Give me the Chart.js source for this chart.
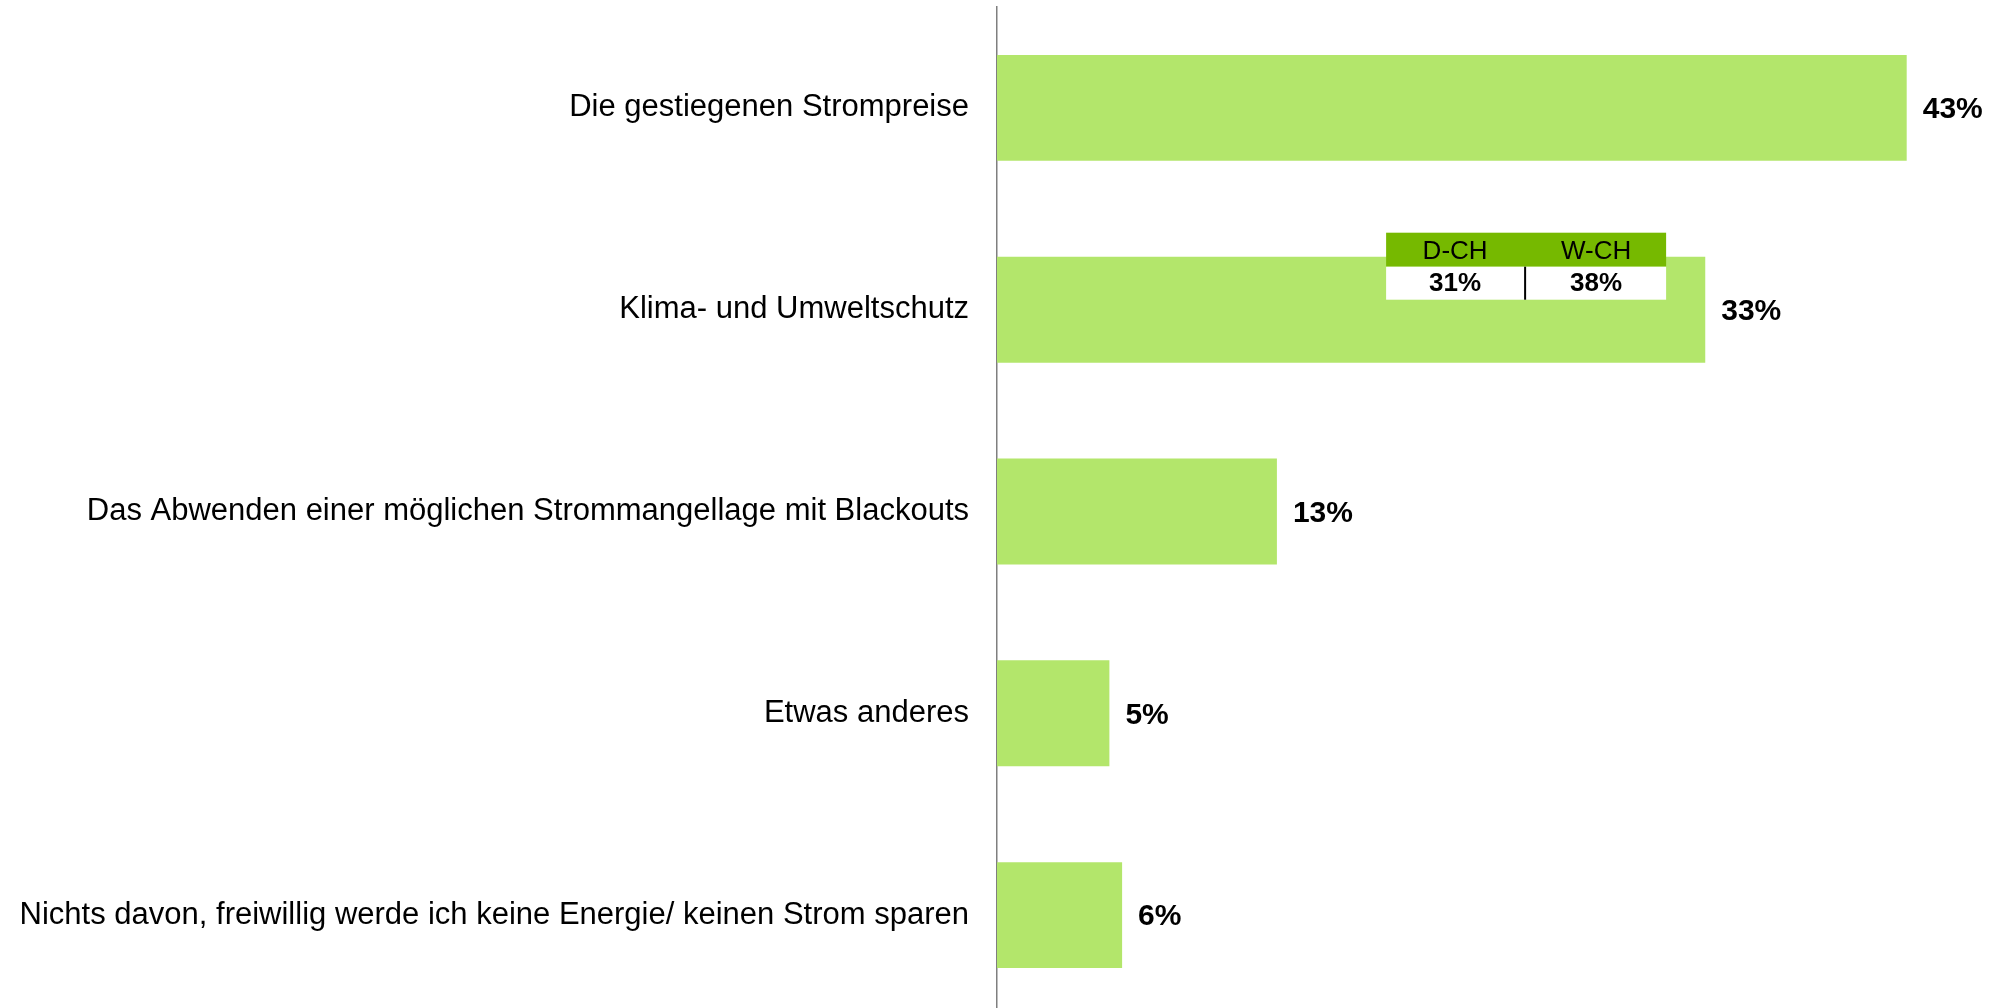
<!DOCTYPE html>
<html>
<head>
<meta charset="utf-8">
<script src="https://cdn.jsdelivr.net/npm/chart.js@4/dist/chart.umd.min.js"></script>
<style>
  html, body { margin: 0; padding: 0; background: #fff; overflow: hidden; }
  #wrap { width: 2000px; height: 1016px; position: relative; }
</style>
</head>
<body>
<div id="wrap"><canvas id="chart"></canvas></div>
<script>
// categories and values
const categories = [
  'Die gestiegenen Strompreise',
  'Klima- und Umweltschutz',
  'Das Abwenden einer möglichen Strommangellage mit Blackouts',
  'Etwas anderes',
  'Nichts davon, freiwillig werde ich keine Energie/ keinen Strom sparen'
];
const shares = [42.9, 33.4, 13.2, 5.3, 5.9];

// inset table on the second bar
const regionHeads = ['D-CH', 'W-CH'];
const regionShares = [31, 38];

const FONT = '"Liberation Sans", Arial, sans-serif';

const valueLabels = {
  id: 'valueLabels',
  afterDatasetsDraw(chart) {
    const ctx = chart.ctx;
    const meta = chart.getDatasetMeta(0);
    ctx.save();
    ctx.font = 'bold 30px ' + FONT;
    ctx.fillStyle = '#000';
    ctx.textAlign = 'left';
    ctx.textBaseline = 'middle';
    meta.data.forEach((bar, i) => {
      ctx.fillText(Math.round(shares[i]) + '%', bar.x + 16, bar.y + 2);
    });
    ctx.restore();
  }
};

const regionTable = {
  id: 'regionTable',
  afterDatasetsDraw(chart) {
    const ctx = chart.ctx;
    const bar = chart.getDatasetMeta(0).data[1];
    const x0 = chart.scales.x.getPixelForValue(18.35);
    const w = 280, colW = 139;
    const top = bar.y - 77, headH = 34, rowH = 33;
    ctx.save();
    ctx.fillStyle = '#76b900';
    ctx.fillRect(x0, top, w, headH);
    ctx.fillStyle = '#fff';
    ctx.fillRect(x0, top + headH, w, rowH);
    ctx.strokeStyle = '#000';
    ctx.lineWidth = 2;
    ctx.beginPath();
    ctx.moveTo(x0 + colW, top + headH);
    ctx.lineTo(x0 + colW, top + headH + rowH);
    ctx.stroke();
    ctx.textAlign = 'center';
    ctx.textBaseline = 'middle';
    ctx.fillStyle = '#000';
    const centers = [x0 + 69, x0 + 210];
    ctx.font = '26px ' + FONT;
    regionHeads.forEach((h, i) => ctx.fillText(h, centers[i], top + headH / 2 + 2));
    ctx.font = 'bold 26px ' + FONT;
    regionShares.forEach((v, i) => ctx.fillText(v + '%', centers[i], top + headH + rowH / 2 + 1));
    ctx.restore();
  }
};

const ctx = document.getElementById('chart').getContext('2d');
new Chart(ctx, {
  type: 'bar',
  data: {
    labels: categories,
    datasets: [{
      data: shares,
      backgroundColor: '#b3e66b',
      borderWidth: 0,
      categoryPercentage: 1,
      barPercentage: 0.525
    }]
  },
  options: {
    indexAxis: 'y',
    responsive: true,
    maintainAspectRatio: false,
    animation: false,
    layout: { padding: { top: 7, right: 0, bottom: 0, left: 0 } },
    plugins: { legend: { display: false }, tooltip: { enabled: false } },
    scales: {
      x: { display: false, min: 0, max: 47.3 },
      y: {
        afterFit(scale) {
          scale.width = 997;
          scale.paddingTop = 0;
          scale.paddingBottom = 0;
        },
        grid: { display: false, drawTicks: false },
        border: { display: true, color: '#7f7f7f', width: 1.5 },
        ticks: {
          padding: 28,
          color: '#000',
          font: { family: FONT, size: 31 }
        }
      }
    }
  },
  plugins: [valueLabels, regionTable]
});
</script>
</body>
</html>
